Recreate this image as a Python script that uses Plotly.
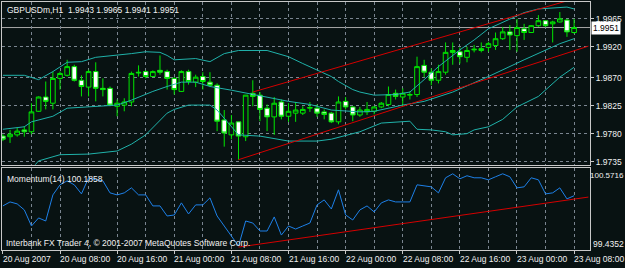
import plotly.graph_objects as go

# ---------------- data ----------------
symbol = "GBPUSDm,H1"
hours = list(range(81))  # H1 bars, hours since 20 Aug 2007 00:00

opens = [1.9776, 1.9775, 1.9778, 1.9786, 1.9783, 1.9816, 1.9839, 1.9829, 1.9869, 1.9874,
         1.9888, 1.9866, 1.9855, 1.9880, 1.9853, 1.9853, 1.9824, 1.9826, 1.9831, 1.9879,
         1.9880, 1.9872, 1.9882, 1.9880, 1.9869, 1.9848, 1.9880, 1.9863, 1.9872, 1.9863,
         1.9858, 1.9802, 1.9778, 1.9799, 1.9775, 1.9845, 1.9842, 1.9821, 1.9807, 1.9831,
         1.9808, 1.9813, 1.9813, 1.9821, 1.9821, 1.9815, 1.9813, 1.9799, 1.9832, 1.9823,
         1.9810, 1.9815, 1.9816, 1.9823, 1.9827, 1.9845, 1.9839, 1.9842, 1.9843, 1.9890,
         1.9879, 1.9866, 1.9879, 1.9914, 1.9912, 1.9903, 1.9915, 1.9914, 1.9919, 1.9922,
         1.9933, 1.9944, 1.9938, 1.9949, 1.9943, 1.9954, 1.9962, 1.9957, 1.9960, 1.9963,
         1.9943]
highs = [1.9779, 1.9786, 1.9789, 1.9792, 1.9829, 1.9840, 1.9864, 1.9880, 1.9880, 1.9899,
         1.9891, 1.9874, 1.9883, 1.9895, 1.9869, 1.9856, 1.9835, 1.9837, 1.9880, 1.9890,
         1.9882, 1.9882, 1.9906, 1.9883, 1.9871, 1.9882, 1.9883, 1.9875, 1.9879, 1.9879,
         1.9861, 1.9818, 1.9810, 1.9799, 1.9842, 1.9866, 1.9847, 1.9827, 1.9839, 1.9835,
         1.9829, 1.9831, 1.9824, 1.9831, 1.9827, 1.9819, 1.9815, 1.9840, 1.9839, 1.9824,
         1.9823, 1.9831, 1.9824, 1.9831, 1.9856, 1.9851, 1.9853, 1.9848, 1.9904, 1.9899,
         1.9885, 1.9891, 1.9927, 1.9927, 1.9919, 1.9920, 1.9923, 1.9927, 1.9928, 1.9943,
         1.9952, 1.9955, 1.9965, 1.9957, 1.9955, 1.9971, 1.9963, 1.9962, 1.9976, 1.9965,
         1.9965]
lows = [1.9768, 1.9765, 1.9775, 1.9775, 1.9779, 1.9815, 1.9819, 1.9819, 1.9851, 1.9872,
        1.9864, 1.9840, 1.9840, 1.9832, 1.9840, 1.9824, 1.9808, 1.9816, 1.9824, 1.9872,
        1.9869, 1.9871, 1.9875, 1.9851, 1.9843, 1.9847, 1.9859, 1.9855, 1.9851, 1.9855,
        1.9784, 1.9759, 1.9771, 1.9738, 1.9768, 1.9824, 1.9800, 1.9784, 1.9778, 1.9803,
        1.9799, 1.9799, 1.9810, 1.9815, 1.9807, 1.9803, 1.9797, 1.9795, 1.9819, 1.9800,
        1.9807, 1.9810, 1.9811, 1.9821, 1.9824, 1.9835, 1.9824, 1.9835, 1.9839, 1.9871,
        1.9858, 1.9861, 1.9875, 1.9891, 1.9893, 1.9895, 1.9911, 1.9911, 1.9912, 1.9915,
        1.9931, 1.9915, 1.9912, 1.9931, 1.9943, 1.9952, 1.9952, 1.9927, 1.9959, 1.9936,
        1.9941]
closes = [1.9771, 1.9779, 1.9784, 1.9783, 1.9815, 1.9839, 1.9832, 1.9869, 1.9877, 1.9888,
          1.9866, 1.9856, 1.9880, 1.9853, 1.9851, 1.9826, 1.9829, 1.9831, 1.9877, 1.9878,
          1.9872, 1.9880, 1.9879, 1.9869, 1.9851, 1.9880, 1.9864, 1.9871, 1.9864, 1.9858,
          1.9800, 1.9781, 1.9797, 1.9776, 1.9842, 1.9840, 1.9819, 1.9807, 1.9829, 1.9808,
          1.9816, 1.9818, 1.9819, 1.9822, 1.9813, 1.9811, 1.9799, 1.9831, 1.9823, 1.9810,
          1.9818, 1.9819, 1.9823, 1.9829, 1.9843, 1.9840, 1.9845, 1.9843, 1.9888, 1.9879,
          1.9866, 1.9880, 1.9911, 1.9911, 1.9904, 1.9914, 1.9916, 1.9917, 1.9925, 1.9933,
          1.9944, 1.9939, 1.9951, 1.9943, 1.9954, 1.9962, 1.9954, 1.9960, 1.9965, 1.9944,
          1.9951]

# Bollinger bands (vertices at bar hours)
upper_t = [0, 3, 5, 7, 9, 11, 13, 16, 18, 20, 22, 23, 24, 27, 29, 31, 33, 37, 39, 40,
           42, 44, 46, 47, 49, 50, 52, 55, 57, 59, 61, 64, 66, 68, 71, 73, 75, 78, 79, 80]
upper_v = [1.9874, 1.9874, 1.9867, 1.9880, 1.9895, 1.9896, 1.9903, 1.9906, 1.9909, 1.9912,
           1.9911, 1.9906, 1.9899, 1.9901, 1.9896, 1.9909, 1.9914, 1.9914, 1.9907, 1.9904,
           1.9893, 1.9883, 1.9872, 1.9864, 1.9851, 1.9847, 1.9842, 1.9843, 1.9847, 1.9867,
           1.9888, 1.9915, 1.9931, 1.9949, 1.9965, 1.9975, 1.9981, 1.9984, 1.9984, 1.9981]
middle_t = [0, 3, 4, 7, 9, 12, 14, 16, 18, 21, 23, 25, 27, 29, 32, 35, 40, 43, 46, 50,
            52, 56, 59, 63, 68, 73, 78, 80]
middle_v = [1.9787, 1.9791, 1.9799, 1.9808, 1.9821, 1.9823, 1.9824, 1.9826, 1.9834, 1.9848,
            1.9856, 1.9863, 1.9863, 1.9856, 1.9850, 1.9843, 1.9832, 1.9827, 1.9818, 1.9815,
            1.9816, 1.9826, 1.9832, 1.9847, 1.9872, 1.9899, 1.9925, 1.9933]
lower_t = [3, 4, 5, 8, 12, 16, 18, 20, 23, 24, 26, 29, 30, 32, 33, 36, 40, 44, 46, 50,
           53, 57, 58, 60, 62, 63, 65, 66, 68, 70, 72, 75, 78, 80]
lower_v = [1.9714, 1.9723, 1.9736, 1.9746, 1.9747, 1.9752, 1.9763, 1.9778, 1.9813, 1.9819,
           1.9826, 1.9826, 1.9818, 1.9791, 1.9778, 1.9776, 1.9768, 1.9768, 1.9771, 1.9783,
           1.9797, 1.9800, 1.9787, 1.9786, 1.9783, 1.9778, 1.9780, 1.9786, 1.9791, 1.9803,
           1.9823, 1.9840, 1.9871, 1.9887]

momentum_name = "Momentum(14)"
momentum = [100.045, 100.100, 100.073, 99.990, 99.768, 99.879, 99.837, 100.197, 100.336, 100.391,
            100.336, 100.211, 100.433, 100.405, 100.391, 100.225, 100.197, 100.225, 100.294, 100.197,
            100.197, 100.045, 100.045, 99.906, 99.920, 100.087, 99.934, 100.059, 100.059, 100.156,
            99.906, 99.768, 99.643, 99.491, 99.837, 99.809, 99.699, 99.699, 99.893, 99.643,
            99.768, 99.726, 99.768, 99.809, 100.059, 100.128, 100.003, 100.267, 99.920, 99.851,
            99.990, 100.045, 99.962, 100.087, 100.128, 100.100, 100.100, 100.100, 100.336, 100.322,
            100.308, 100.225, 100.433, 100.488, 100.419, 100.461, 100.433, 100.433, 100.405, 100.447,
            100.488, 100.447, 100.294, 100.308, 100.433, 100.405, 100.211, 100.225, 100.294, 100.142,
            100.1858]
momentum_scale = [100.5716, 99.4352]

# trend lines (anchor points: hour, value)
trend_up_t = [35, 82]
trend_up_v = [1.9847, 2.0004]
trend_lo_t = [33, 82]
trend_lo_v = [1.9738, 1.9921]
trend_mom_t = [33, 82]
trend_mom_v = [99.477, 100.167]

price_ticks = [1.9965, 1.9920, 1.9870, 1.9825, 1.9780, 1.9735]
time_tick_hours = [0, 8, 16, 24, 32, 40, 48, 56, 64, 72, 80]
time_tick_labels = ["20 Aug 2007", "20 Aug 08:00", "20 Aug 16:00", "21 Aug 00:00",
                    "21 Aug 08:00", "21 Aug 16:00", "22 Aug 00:00", "22 Aug 08:00",
                    "22 Aug 16:00", "23 Aug 00:00", "23 Aug 08:00"]
copyright_text = "Interbank FX Trader 4, \u00a9 2001-2007 MetaQuotes Software Corp."

# ---------------- style / layout ----------------
W, H = 625, 268
BG = "#081212"
GREEN = "#00e600"
BAND = "#20b2aa"
MOMC = "#1e80e8"
RED = "#d40000"
GRID = "#7a8590"
FRAME = "#c8c8c8"
TXT = "#f0f0f0"
FONT = "Liberation Sans, Arial, sans-serif"
FS = 8.5

PX_L, PX_R = 2, 590
MAIN_TOP, MAIN_BOT = 2, 166
MOM_TOP, MOM_BOT = 169, 252
X0, X1 = -0.126, 82.227
MAIN_RANGE = [1.97298, 1.99922]


def py(p):
    return 1 - p / H


fig = go.Figure()
fig.add_trace(go.Candlestick(
    x=hours, open=opens, high=highs, low=lows, close=closes,
    increasing=dict(line=dict(color=GREEN, width=1), fillcolor=BG),
    decreasing=dict(line=dict(color=GREEN, width=1), fillcolor="#ffffff"),
    whiskerwidth=0, hoverinfo="skip", xaxis="x", yaxis="y"))
for tt, vv in [(upper_t, upper_v), (middle_t, middle_v), (lower_t, lower_v)]:
    fig.add_trace(go.Scatter(x=tt, y=vv, mode="lines", line=dict(color=BAND, width=1),
                             hoverinfo="skip", xaxis="x", yaxis="y"))
for tt, vv in [(trend_up_t, trend_up_v), (trend_lo_t, trend_lo_v)]:
    fig.add_trace(go.Scatter(x=tt, y=vv, mode="lines", line=dict(color=RED, width=1),
                             hoverinfo="skip", xaxis="x", yaxis="y"))
fig.add_trace(go.Scatter(x=hours, y=momentum, mode="lines", line=dict(color=MOMC, width=1),
                         hoverinfo="skip", xaxis="x2", yaxis="y2"))
fig.add_trace(go.Scatter(x=trend_mom_t, y=trend_mom_v, mode="lines", line=dict(color=RED, width=1),
                         hoverinfo="skip", xaxis="x2", yaxis="y2"))

dom_x = [PX_L / W, PX_R / W]
common_x = dict(domain=dom_x, range=[X0, X1], showline=True, mirror=True, linecolor=FRAME,
                linewidth=1, zeroline=False, showticklabels=False, fixedrange=True)
fig.update_layout(
    width=W, height=H, margin=dict(l=0, r=0, t=0, b=0),
    paper_bgcolor=BG, plot_bgcolor=BG, showlegend=False, hovermode=False,
    boxgap=0.35, boxgroupgap=0,
    font=dict(family=FONT, size=FS, color=TXT),
    xaxis=dict(**common_x, anchor="y", tick0=0, dtick=4, ticks="", showgrid=True,
               gridcolor=GRID, griddash="3px,3px", gridwidth=1,
               rangeslider=dict(visible=False)),
    yaxis=dict(domain=[py(MAIN_BOT), py(MAIN_TOP)], range=MAIN_RANGE, anchor="x", side="right",
               tickvals=price_ticks, ticktext=[f"{v:.4f}" for v in price_ticks],
               ticks="outside", ticklen=3, tickcolor=FRAME, tickfont=dict(size=FS, color=TXT),
               showgrid=True, gridcolor=GRID, griddash="3px,3px", gridwidth=1,
               showline=True, mirror=True, linecolor=FRAME, zeroline=False, fixedrange=True),
    xaxis2=dict(**common_x, anchor="y2", tick0=0, dtick=8, ticks="outside", ticklen=3,
                tickcolor=FRAME, showgrid=True, gridcolor=GRID, griddash="3px,3px",
                minor=dict(tick0=0, dtick=4, showgrid=True, gridcolor=GRID, griddash="3px,3px",
                           ticks="")),
    yaxis2=dict(domain=[py(MOM_BOT), py(MOM_TOP)], range=[momentum_scale[1], momentum_scale[0]],
                anchor="x2", side="right", showticklabels=False, ticks="", showgrid=False,
                showline=True, mirror=True, linecolor=FRAME, zeroline=False, fixedrange=True),
)

# bid line
fig.add_shape(type="line", xref="x domain", yref="y", x0=0, x1=1, y0=closes[-1], y1=closes[-1],
              line=dict(color="#a8a8a8", width=1), layer="below")

ann = []
ann.append(dict(text=f"{symbol}  {opens[-1]:.4f} {highs[-1]:.4f} {lows[-1]:.4f} {closes[-1]:.4f}",
                xref="paper", yref="paper", x=5 / W, y=py(10), xanchor="left", yanchor="middle"))
ann.append(dict(text=f"{momentum_name} {momentum[-1]:.4f}", xref="paper", yref="paper",
                x=5 / W, y=py(180), xanchor="left", yanchor="middle"))
ann.append(dict(text=copyright_text, xref="paper", yref="paper", x=4 / W, y=py(245),
                xanchor="left", yanchor="middle"))
ann.append(dict(text=f"{momentum_scale[0]:.4f}", xref="paper", yref="paper", x=1, y=py(177),
                xanchor="right", yanchor="middle", borderpad=0,
                font=dict(family=FONT, size=8, color=TXT)))
ann.append(dict(text=f"{momentum_scale[1]:.4f}", xref="paper", yref="paper", x=591 / W, y=py(246),
                xanchor="left", yanchor="middle"))
ann.append(dict(text=f"{closes[-1]:.4f}", xref="paper", yref="y", x=591 / W, y=closes[-1],
                xanchor="left", yanchor="middle", bgcolor="#ffffff", borderpad=1,
                font=dict(family=FONT, size=FS, color="#000000")))
for h, lab in zip(time_tick_hours, time_tick_labels):
    ann.append(dict(text=lab, xref="x2", yref="paper", x=h, y=py(260.5), xanchor="left",
                    yanchor="middle", xshift=-2))
for a in ann:
    a.setdefault("showarrow", False)
    a.setdefault("font", dict(family=FONT, size=FS, color=TXT))
fig.update_layout(annotations=ann)

fig.write_html("out.html")
